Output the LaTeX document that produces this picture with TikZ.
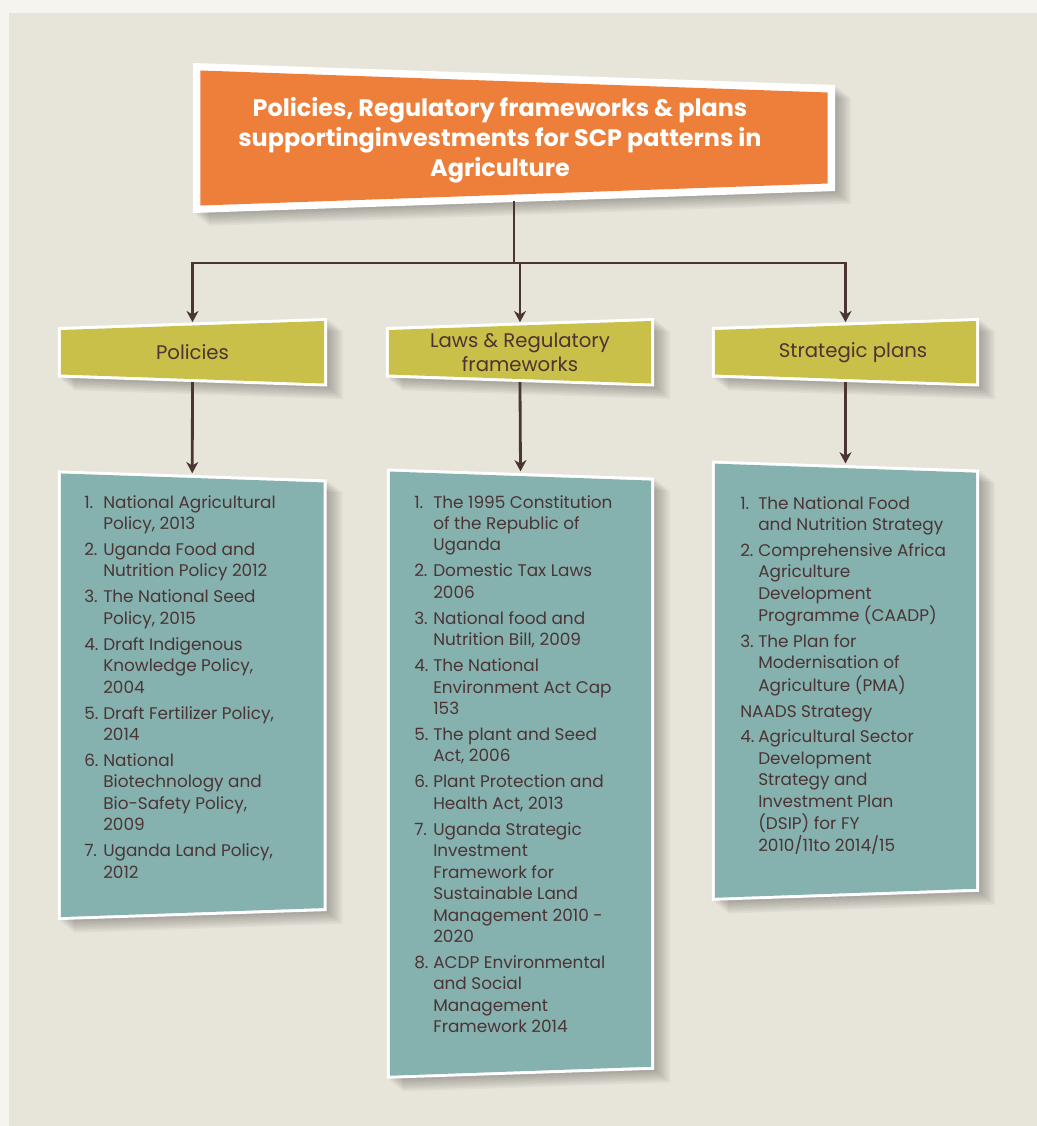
\documentclass[tikz,border=0pt]{standalone}
\usepackage{fontspec}
\setmainfont{Poppins}
\usetikzlibrary{arrows.meta,calc}
\pgfdeclarelayer{back}
\pgfdeclarelayer{mid}
\pgfsetlayers{back,mid,main}

\definecolor{paper}{HTML}{F6F4EF}
\definecolor{panel}{HTML}{E7E4DA}
\definecolor{orangeBox}{HTML}{EE7F3B}
\definecolor{oliveBox}{HTML}{C8C049}
\definecolor{tealBox}{HTML}{85B1AF}
\definecolor{ink}{HTML}{4B3434}

% tile: node, colour, border, left drop, right drop
\newcommand{\tile}[5]{%
  \foreach \s in {2,4,...,16}
    \fill[black, opacity=0.035] ($(#1.north west)+(\s,{0.8*\s+#4})$) -- ($(#1.north east)+(\s,{0.8*\s+#5})$)
      -- ($(#1.south east)+(\s,{0.8*\s-#5})$) -- ($(#1.south west)+(\s,{0.8*\s-#4})$) -- cycle;
  \fill[white] ($(#1.north west)+(0,#4)$) -- ($(#1.north east)+(0,#5)$)
      -- ($(#1.south east)+(0,-#5)$) -- ($(#1.south west)+(0,-#4)$) -- cycle;
  \fill[#2] ($(#1.north west)+(#3,{#4+#3})$) -- ($(#1.north east)+(-#3,{#5+#3})$)
      -- ($(#1.south east)+(-#3,{-#5-#3})$) -- ($(#1.south west)+(#3,{-#4-#3})$) -- cycle;
}

\begin{document}
\begin{tikzpicture}[x=0.025cm, y=-0.025cm, link/.style={draw=ink, line width=2pt}]
	\tikzstyle{holder}=[inner sep=0pt, outer sep=0pt]
	\tikzstyle{head}=[holder, minimum width=6.725cm, minimum height=1.7125cm, text=ink, align=center, font=\fontsize{14}{17}\selectfont]
	\tikzstyle{title}=[holder, text=white, align=center, font=\fontsize{17}{21.3}\selectfont\bfseries]
	\tikzstyle{items}=[anchor=base west, inner sep=0pt, text=ink, font=\fontsize{12}{15.25}\selectfont]
	\tikzstyle{connect}=[link, -{Stealth[length=8pt, width=8.5pt, inset=2.5pt]}]
	\useasboundingbox (0,0) rectangle (1037,1126);
	\begin{pgfonlayer}{back}
		\fill[paper] (0,0) rectangle (1037,1126);
		\fill[panel] (9,13) rectangle (1037,1126);
	\end{pgfonlayer}

	\node[holder, minimum width=16.05cm, minimum height=3.75cm] (topBox) at (514,138) {};
	\node[title] (title) at (500,140) {Policies, Regulatory frameworks \& plans\\supportinginvestments for SCP patterns in\\Agriculture};
	\node[head] (pol) at (192.5,352.25) {Policies};
	\node[head, minimum width=6.7cm] (laws) at (520,352.25) {Laws \& Regulatory\\frameworks};
	\node[head, minimum width=6.675cm] (plans) at (845.5,352.25) {\hspace*{0.375cm}Strategic plans};
	\node[holder, minimum width=6.7125cm, minimum height=11.2375cm] (polList) at (192.25,695.25) {};
	\node[holder, minimum width=6.675cm, minimum height=15.25cm] (lawsList) at (520.5,773.65) {};
	\node[holder, minimum width=6.675cm, minimum height=11cm] (plansList) at (845.5,680.7) {};

	\begin{pgfonlayer}{mid}
		\tile{topBox}{orangeBox}{7.5}{0}{22}
		\tile{pol}{oliveBox}{3}{9}{0}
		\tile{laws}{oliveBox}{3}{9}{0}
		\tile{plans}{oliveBox}{3}{9}{0}
		\tile{polList}{tealBox}{3}{0}{9}
		\tile{lawsList}{tealBox}{3}{0}{9}
		\tile{plansList}{tealBox}{3}{0}{9}
	\end{pgfonlayer}

	\node[items] (polItems) at (84,508) {\begin{tabular}[t]{@{}p{0.475cm}@{}l@{}}
		1. & National Agricultural\\
		   & Policy, 2013\\[3.2pt]
		2. & Uganda Food and\\
		   & Nutrition Policy 2012\\[3.2pt]
		3. & The National Seed\\
		   & Policy, 2015\\[3.2pt]
		4. & Draft Indigenous\\
		   & Knowledge Policy,\\
		   & 2004\\[3.2pt]
		5. & Draft Fertilizer Policy,\\
		   & 2014\\[3.2pt]
		6. & National\\
		   & Biotechnology and\\
		   & Bio-Safety Policy,\\
		   & 2009\\[3.2pt]
		7. & Uganda Land Policy,\\
		   & 2012
	\end{tabular}};
	\node[items] (lawsItems) at (414,508) {\begin{tabular}[t]{@{}p{0.475cm}@{}l@{}}
		1. & The 1995 Constitution\\
		   & of the Republic of\\
		   & Uganda\\[3.2pt]
		2. & Domestic Tax Laws\\
		   & 2006\\[3.2pt]
		3. & National food and\\
		   & Nutrition Bill, 2009\\[3.2pt]
		4. & The National\\
		   & Environment Act Cap\\
		   & 153\\[3.2pt]
		5. & The plant and Seed\\
		   & Act, 2006\\[3.2pt]
		6. & Plant Protection and\\
		   & Health Act, 2013\\[3.2pt]
		7. & Uganda Strategic\\
		   & Investment\\
		   & Framework for\\
		   & Sustainable Land\\
		   & Management 2010 -\\
		   & 2020\\[3.2pt]
		8. & ACDP Environmental\\
		   & and Social\\
		   & Management\\
		   & Framework 2014
	\end{tabular}};
	\node[items] (plansItems) at (740,509) {\begin{tabular}[t]{@{}p{0.45cm}@{}l@{}}
		1. & The National Food\\
		   & and Nutrition Strategy\\[3.2pt]
		2. & Comprehensive Africa\\
		   & Agriculture\\
		   & Development\\
		   & Programme (CAADP)\\[3.2pt]
		3. & The Plan for\\
		   & Modernisation of\\
		   & Agriculture (PMA)\\[3.2pt]
		\multicolumn{2}{@{}l@{}}{NAADS Strategy}\\[3.2pt]
		4. & Agricultural Sector\\
		   & Development\\
		   & Strategy and\\
		   & Investment Plan\\
		   & (DSIP) for FY\\
		   & 2010/11to 2014/15
	\end{tabular}};

	% tree lines
	\coordinate (bus) at (513,263);
	\draw[link, shorten <=-8.2pt] (topBox.south) -- (topBox.south |- bus);
	\draw[link, line cap=rect] (bus -| pol.north) -- (bus -| plans.north);
	\foreach \n in {pol,laws,plans}
		\draw[connect, shorten >=-3pt] (bus -| \n.north) -- (\n.north);
	\draw[connect, shorten <=-3.2pt, shorten >=-2pt] (pol.south) -- (polList.north);
	\draw[connect, shorten <=-3.2pt, shorten >=-2pt] (laws.south) -- (lawsList.north);
	\draw[connect, shorten <=-3.2pt, shorten >=-2pt] (plans.south) -- (plansList.north);
\end{tikzpicture}
\end{document}
